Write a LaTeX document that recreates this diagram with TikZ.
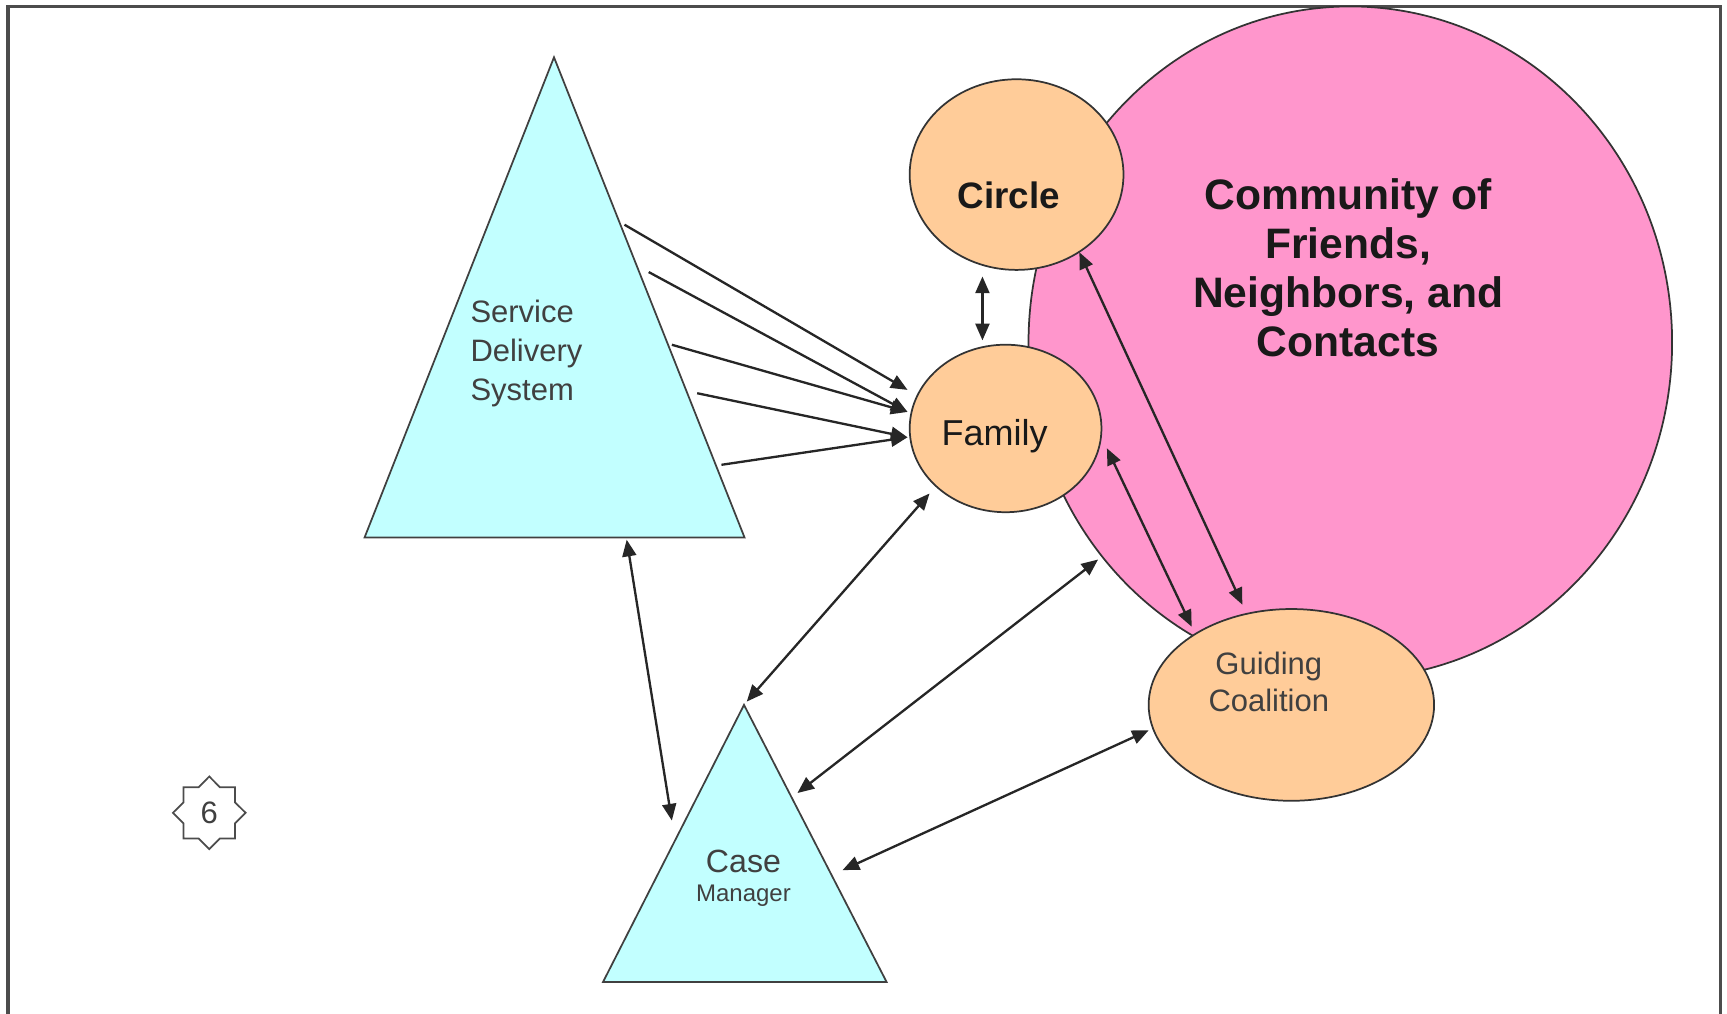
\documentclass[tikz,border=0pt]{standalone}
\usepackage{fontspec}
\setmainfont{Liberation Sans}
\usetikzlibrary{shapes}
\usetikzlibrary{arrows.meta}

\definecolor{triblue}{RGB}{194,255,255}
\definecolor{blobtan}{RGB}{255,204,153}
\definecolor{commpink}{RGB}{255,150,204}

\begin{document}
\begin{tikzpicture}[x = 0.01cm, y = -0.01cm,
    tri/.style = {draw = black!75, fill = triblue, line width = 0.45pt},
    blob/.style = {draw = black!80, ellipse, fill = blobtan, line width = 0.45pt, inner sep = 0pt},
    thin text/.style = {text = black!75, align = center},
    link/.style = {line width = 0.6pt, draw = black!85},
    >={Triangle[length = 4.3pt, width = 3.6pt]}]
    \useasboundingbox (0,0) rectangle (1568,920.6);
    \draw[line width = 0.8pt, black!70] (7.3,920.6) -- (7.3,5.5) -- (1561.7,5.5) -- (1561.7,920.6);

    \node[draw = black!80, ellipse, fill = commpink, minimum width = 5.84cm, minimum height = 6.10cm, line width = 0.45pt] at (1226,311) (comm) {};
    \node[blob, minimum width = 1.94cm, minimum height = 1.73cm] at (923,158.5) (circ) {};
    \node[blob, minimum width = 1.74cm, minimum height = 1.52cm] at (913,389) (fam) {};
    \node[blob, minimum width = 2.59cm, minimum height = 1.74cm] at (1172.5,640) (gc) {};

    \coordinate (sds top) at (503,52);
    \coordinate (sds left) at (331,488);
    \coordinate (sds right) at (676,488);
    \draw[tri] (sds top) -- (sds left) -- (sds right) -- cycle;
    \coordinate (cm top) at (675.5,640);
    \coordinate (cm left) at (547.5,891.6);
    \coordinate (cm right) at (805,891.6);
    \draw[tri] (cm top) -- (cm left) -- (cm right) -- cycle;

    \node[text = black!90, align = center, font = \fontsize{11}{12.6}\selectfont\bfseries] at (1224,243) (comm text) {Community of\\Friends,\\Neighbors, and\\Contacts};
    \node[text = black!90, font = \fontsize{9.5}{11}\selectfont\bfseries] at (916,177) (circ text) {Circle};
    \node[text = black!90, font = \fontsize{9.3}{11}\selectfont] at (903,396) (fam text) {Family};
    \node[thin text, font = \fontsize{8}{9.7}\selectfont] at (1152,619) (gc text) {Guiding\\Coalition};
    \node[thin text, align = left, font = \fontsize{8}{10.1}\selectfont] at (478,321) (sds) {Service\\Delivery\\System};
    \node[thin text, font = \fontsize{8.3}{9}\selectfont] at (675,782) (cm) {Case};
    \node[thin text, font = \fontsize{6.2}{7}\selectfont] at (675,813) (cm small) {Manager};
    \node[draw = black!70, star, star points = 8, star point ratio = 1.31, minimum size = 0.66cm, inner sep = 0pt, line width = 0.45pt, thin text, font = \fontsize{8}{9.6}\selectfont] at (190,738) (slide no) {6};

    \coordinate (sds a) at (567,204);
    \coordinate (sds b) at (589,247);
    \coordinate (sds c) at (610,313);
    \coordinate (sds d) at (633,357);
    \coordinate (sds e) at (655,422);
    \coordinate (fam a) at (824,354);
    \coordinate (fam b) at (824,374);
    \coordinate (fam c) at (824,397);
    \draw[link, ->] (sds a) -- (fam a);
    \draw[link, ->] (sds b) -- (fam b);
    \draw[link, ->] (sds c) -- (fam b);
    \draw[link, ->] (sds d) -- (fam c);
    \draw[link, ->] (sds e) -- (fam c);

    \coordinate (sds foot) at (569,490);
    \coordinate (cm west) at (610,745);
    \coordinate (fam sw) at (844,448);
    \coordinate (cm apex) at (678,637);
    \coordinate (comm sw) at (997,508);
    \coordinate (cm ne) at (724,720);
    \coordinate (gc west) at (1043,663);
    \coordinate (cm east) at (765,790);
    \coordinate (circ south) at (892,251);
    \coordinate (fam north) at (892,309);
    \coordinate (fam east) at (1005,407);
    \coordinate (gc nw) at (1082,569);
    \coordinate (circ se) at (980,229);
    \coordinate (gc north) at (1128,549);
    \draw[link, <->] (sds foot) -- (cm west);
    \draw[link, <->] (fam sw) -- (cm apex);
    \draw[link, <->] (comm sw) -- (cm ne);
    \draw[link, <->] (gc west) -- (cm east);
    \draw[link, <->] (circ south) -- (fam north);
    \draw[link, <->] (fam east) -- (gc nw);
    \draw[link, <->] (circ se) -- (gc north);
\end{tikzpicture}
\end{document}
